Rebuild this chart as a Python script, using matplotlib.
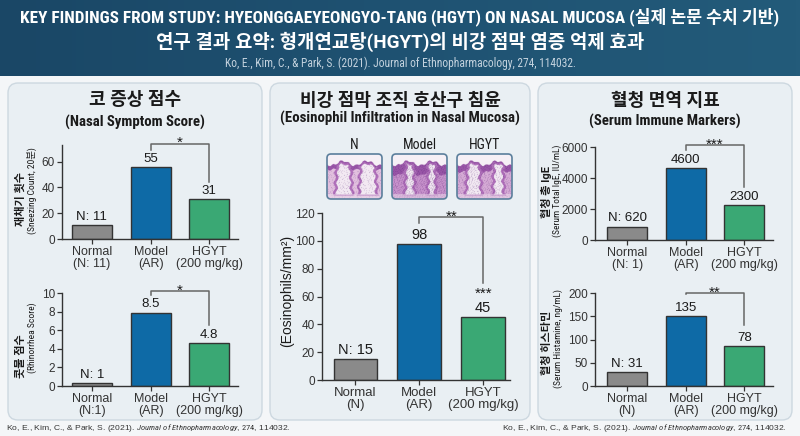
import numpy as np
import matplotlib
matplotlib.use('Agg')
import matplotlib.pyplot as plt
from matplotlib import font_manager
from matplotlib.patches import FancyBboxPatch
from matplotlib.colors import LinearSegmentedColormap, to_rgb

# ---- data ----
groups = ['Normal', 'Model', 'HGYT']
bar_colors = ['#8a8a8a', '#0e6aa6', '#3aa874']

sneeze_sub = ['(N: 11)', '(AR)', '(200 mg/kg)']
sneeze_vals = [11, 56, 31]
sneeze_labels = ['N: 11', '55', '31']

rhino_sub = ['(N:1)', '(AR)', '(200 mg/kg)']
rhino_vals = [0.3, 7.9, 4.6]
rhino_labels = ['N: 1', '8.5', '4.8']

eos_sub = ['(N)', '(AR)', '(200 mg/kg)']
eos_vals = [15, 98, 45]
eos_labels = ['N: 15', '98', '45']

ige_sub = ['(N: 1)', '(AR)', '(200 mg/kg)']
ige_vals = [870, 4650, 2250]
ige_labels = ['N: 620', '4600', '2300']

hist_sub = ['(N)', '(AR)', '(200 mg/kg)']
hist_vals = [31, 151, 86]
hist_labels = ['N: 31', '135', '78']

W, H = 800, 436

# fonts
names = {f.name for f in font_manager.fontManager.ttflist}
cond = 'Roboto'
for n in ['Roboto Condensed', 'Liberation Sans Narrow', 'Roboto']:
    if n in names:
        cond = n
        break
narrow = cond != 'Roboto'
k = 1.0 if narrow else 0.86

plt.rcParams['font.family'] = ['Liberation Sans', 'Noto Sans CJK KR', 'DejaVu Sans']
plt.rcParams['mathtext.fontset'] = 'custom'
plt.rcParams['mathtext.rm'] = cond
plt.rcParams['mathtext.it'] = cond + ':italic'
CF = [cond, 'Noto Sans CJK KR', 'DejaVu Sans']
KF = ['Roboto', 'Noto Sans CJK KR', 'DejaVu Sans']

fig = plt.figure(figsize=(W / 100, H / 100), dpi=100, facecolor='#f4f6f8')

bg = fig.add_axes([0, 0, 1, 1])
bg.axis('off')

# header band
hcmap = LinearSegmentedColormap.from_list('h', ['#1a4766', '#1f5272', '#235b7a'])
bg.imshow(np.linspace(0, 1, 200).reshape(1, -1), extent=(0, W, 76, 0), aspect='auto', cmap=hcmap, zorder=0)
bg.text(400, 17, 'KEY FINDINGS FROM STUDY: HYEONGGAEYEONGYO-TANG (HGYT) ON NASAL MUCOSA (실제 논문 수치 기반)',
        ha='center', va='center', color='white', fontsize=12.4 * k, fontweight='bold', family=CF)
bg.text(400, 42, '연구 결과 요약: 형개연교탕(HGYT)의 비강 점막 염증 억제 효과',
        ha='center', va='center', color='white', fontsize=13.6, fontweight='bold', family=KF)
bg.text(400, 63, 'Ko, E., Kim, C., & Park, S. (2021). Journal of Ethnopharmacology, 274, 114032.',
        ha='center', va='center', color='#c3d2de', fontsize=8.3 * k, family=CF)

# panels
for x0, x1 in [(8, 262), (270, 530), (538, 792)]:
    bg.add_patch(FancyBboxPatch((x0, 83), x1 - x0, 337, boxstyle='round,pad=0,rounding_size=10',
                                fc='#e9eff3', ec='#cdd8e0', lw=1, zorder=1))

titles = [(135, 100, 122, '코 증상 점수', '(Nasal Symptom Score)'),
          (400, 101, 118, '비강 점막 조직 호산구 침윤', '(Eosinophil Infiltration in Nasal Mucosa)'),
          (665, 101, 121, '혈청 면역 지표', '(Serum Immune Markers)')]
for cx, y1, y2, kt, et in titles:
    bg.text(cx, y1, kt, ha='center', va='center', fontsize=13, fontweight='bold', family=KF, color='#1a1a1a')
    bg.text(cx, y2, et, ha='center', va='center', fontsize=10.7 * k, fontweight='bold', family=CF, color='#1a1a1a')

# y labels (two-line style)
ylabs = [(21, 199, '재채기 횟수', 32, 191, '(Sneezing Count, 20분)'),
         (21, 356, '콧물 점수', 32, 338, '(Rhinorrhea Score)'),
         (546, 192, '혈청 총 IgE', 557.5, 191, '(Serum Total IgE, IU/mL)'),
         (547, 343, '혈청 히스타민', 558.5, 338, '(Serum Histamine, ng/mL)')]
for bx, by, bt, sx, sy, st in ylabs:
    bg.text(bx, by, bt, rotation=90, ha='center', va='center', fontsize=8, fontweight='bold', family=KF, color='#1a1a1a')
    bg.text(sx, sy, st, rotation=90, ha='center', va='center', fontsize=6.8 * k, family=CF, color='#1a1a1a')
bg.text(287, 291, '(Eosinophils/mm²)', rotation=90, ha='center', va='center', fontsize=10, color='#1a1a1a')


# histology thumbnails (decorative texture)
def tissue(fingers, thick, dens, stroma, h=90, w=110):
    yy, xx = np.mgrid[0:h, 0:w].astype(float)
    u, v = xx / w, yy / h
    img = np.ones((h, w, 3)) * np.array(to_rgb('#f6f0f6'))
    surf = 0.2 + 0.05 * np.sin(2 * np.pi * u * 2.3 + 0.6) + 0.02 * np.sin(2 * np.pi * u * 7.1)
    tis = v > surf
    img[tis] = to_rgb(stroma)
    img[tis & (v < surf + thick)] = to_rgb('#9a56a8')
    for c, hw in fingers:
        wid = hw * (1.0 + 0.5 * (v - 0.3)) + 0.02 * np.sin(yy * 0.31 + c * 9)
        ring = (np.abs(u - c) < wid + 0.05) & (v > surf + 0.03) & (v < 0.93)
        img[ring] = to_rgb('#b06fba')
        core = (np.abs(u - c) < wid) & (v > surf + 0.07) & (v < 0.9)
        img[core] = to_rgb('#f3eaf3')
    tex = (np.sin(1.31 * xx + 0.73 * yy + 2.1 * np.sin(0.17 * yy + 0.03 * xx))
           + np.sin(0.97 * xx - 1.71 * yy + 1.7 * np.sin(0.23 * xx))
           + np.sin(2.27 * xx + 0.41 * yy + 1.3 * np.cos(0.19 * xx + 0.11 * yy))
           + np.sin(0.53 * xx + 2.93 * yy + 2.4 * np.sin(0.13 * xx - 0.29 * yy))) / 4
    dots = tis & (tex > 0.55 - dens)
    img[dots] = img[dots] * 0.4 + np.array(to_rgb('#5a2878')) * 0.6
    low = v > 0.88
    img[low] = img[low] * 0.5 + np.array(to_rgb('#f0e2ee')) * 0.5
    return img


thumbs = [('N', 327, [(0.3, 0.1), (0.74, 0.11)], 0.1, 0.0, '#e2c0df'),
          ('Model', 392, [(0.32, 0.05), (0.72, 0.04)], 0.22, 0.2, '#c993cd'),
          ('HGYT', 457, [(0.3, 0.09), (0.75, 0.06)], 0.15, 0.1, '#d6abd6')]
for name, x0, fing, th, de, sc in thumbs:
    im = bg.imshow(tissue(fing, th, de, sc), extent=(x0, x0 + 55, 199, 154), aspect='auto', zorder=2)
    frame = FancyBboxPatch((x0, 154), 55, 45, boxstyle='round,pad=0,rounding_size=4',
                           fc='none', ec='#5b7f9c', lw=1.2, zorder=3)
    bg.add_patch(frame)
    im.set_clip_path(frame)
    bg.text(x0 + 27.5, 145, name, ha='center', va='center', fontsize=10 * k, family=CF, color='#1a1a1a')

# footers
cite = r'Ko, E., Kim, C., & Park, S. (2021). $\mathit{Journal\ of\ Ethnopharmacology}$, $\mathit{274}$, 114032.'
bg.text(6, 428, cite, ha='left', va='center', fontsize=6.1 * k, color='#333333')
bg.text(787, 428, cite, ha='right', va='center', fontsize=6.1 * k, color='#333333')

bg.set_xlim(0, W)
bg.set_ylim(H, 0)


def px_axes(x0, y0, x1, y1):
    return fig.add_axes([x0 / W, 1 - y1 / H, (x1 - x0) / W, (y1 - y0) / H])


def bar_chart(ax, vals, labels, subs, ymax, yticks, xlim, fs_tick, fs_x, fs_val):
    x = np.arange(len(vals))
    ax.bar(x, vals, width=0.68, color=bar_colors, edgecolor='#333333', linewidth=1.0, zorder=2)
    for xi, v, lab in zip(x, vals, labels):
        ax.annotate(lab, (xi, v), xytext=(0, 1.5), textcoords='offset points',
                    ha='center', va='bottom', fontsize=fs_val, color='#1a1a1a')
    ax.set_xticks(x)
    ax.set_xticklabels([g + '\n' + s for g, s in zip(groups, subs)], linespacing=1.0)
    ax.set_ylim(0, ymax)
    ax.set_yticks(yticks)
    ax.set_xlim(*xlim)
    ax.patch.set_alpha(0)
    for s in ['top', 'right']:
        ax.spines[s].set_visible(False)
    for s in ['left', 'bottom']:
        ax.spines[s].set_color('#333333')
        ax.spines[s].set_linewidth(1.0)
    ax.tick_params(axis='y', length=3.5, width=0.9, colors='#333333', labelsize=fs_tick, pad=1.5)
    ax.tick_params(axis='x', length=3.5, width=0.9, colors='#333333', labelsize=fs_x, pad=1.5)


def bracket(ax, yb, yl, yr, stars, fs=11):
    ax.plot([1, 1, 2, 2], [yl, yb, yb, yr], color='#666666', lw=1.1, clip_on=False, zorder=3)
    ax.annotate(stars, (1.5, yb), xytext=(0, -2.5), textcoords='offset points',
                ha='center', va='baseline', fontsize=fs, color='#1a1a1a', annotation_clip=False)


ax1 = px_axes(62, 145, 238, 239)
bar_chart(ax1, sneeze_vals, sneeze_labels, sneeze_sub, 73, [0, 20, 40, 60], (-0.51, 2.49), 8.5, 9, 9.5)
bracket(ax1, 74, 69.5, 44.5, '*')

ax2 = px_axes(62, 293, 238, 386)
bar_chart(ax2, rhino_vals, rhino_labels, rhino_sub, 10, [0, 2, 4, 6, 8, 10], (-0.51, 2.49), 8.5, 9, 9.5)
bracket(ax2, 10.2, 9.8, 6.6, '*')

ax3 = px_axes(322, 213, 510, 380)
bar_chart(ax3, eos_vals, eos_labels, eos_sub, 120, [0, 20, 40, 60, 80, 100, 120], (-0.52, 2.42), 8.5, 9.5, 10.5)
bracket(ax3, 117, 113, 70, '**')
ax3.annotate('***', (2, eos_vals[2]), xytext=(0, 14), textcoords='offset points',
             ha='center', va='baseline', fontsize=11, color='#1a1a1a')

ax4 = px_axes(595, 147, 773, 240)
bar_chart(ax4, ige_vals, ige_labels, ige_sub, 6000, [0, 2000, 4000, 6000], (-0.55, 2.49), 8.5, 9, 9.5)
bracket(ax4, 6130, 5800, 3420, '***')

ax5 = px_axes(595, 293, 773, 386)
bar_chart(ax5, hist_vals, hist_labels, hist_sub, 200, [0, 50, 100, 150, 200], (-0.55, 2.49), 8.5, 9, 9.5)
bracket(ax5, 200, 197, 131, '**')

fig.savefig('out.png', dpi=100, facecolor=fig.get_facecolor())
